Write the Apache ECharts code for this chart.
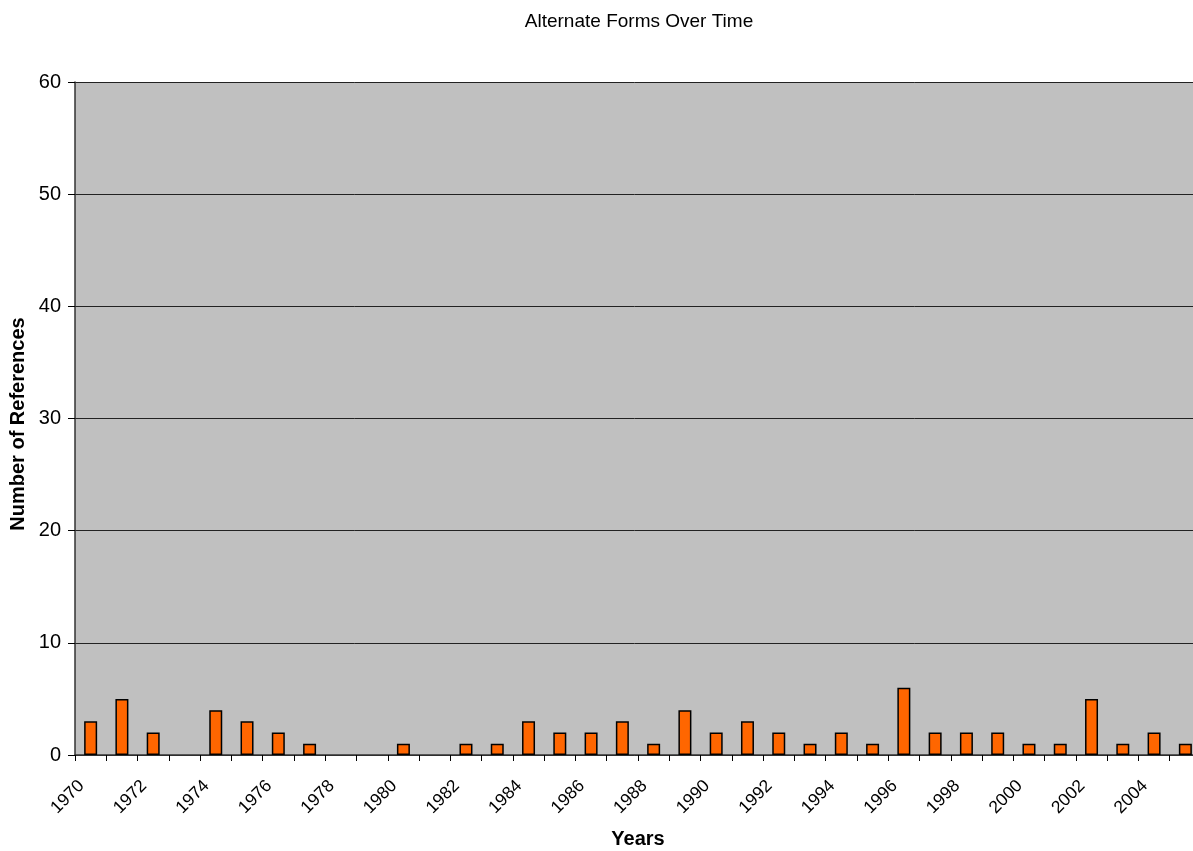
<!DOCTYPE html>
<html><head><meta charset="utf-8">
<script src="https://cdn.jsdelivr.net/npm/echarts@6/dist/echarts.min.js"></script>
<style>html,body{margin:0;padding:0;background:#fff}#c{width:1193px;height:851px}</style>
</head><body><div id="c"></div>
<script>
const years = ['1970','1971','1972','1973','1974','1975','1976','1977','1978','1979','1980','1981','1982','1983','1984','1985','1986','1987','1988','1989','1990','1991','1992','1993','1994','1995','1996','1997','1998','1999','2000','2001','2002','2003','2004','2005'];
const references = [3,5,2,0,4,3,2,1,0,0,1,0,1,1,3,2,2,3,1,4,2,3,2,1,2,1,6,2,2,2,1,1,5,1,2,1];
const yTicks = [0,10,20,30,40,50,60];
const font = 'Liberation Sans, Arial, sans-serif';
const chart = echarts.init(document.getElementById('c'));
chart.setOption({
  animation:false,
  title:{text:'Alternate Forms Over Time',left:634,top:7,textAlign:'center',textStyle:{fontFamily:font,fontSize:19,fontWeight:'normal',color:'#000'}},
  grid:{left:75,right:-8,top:82,bottom:96,show:true,backgroundColor:'#c0c0c0',borderWidth:0,containLabel:false,outerBoundsMode:'none'},
  xAxis:{type:'category',data:years,
    axisLine:{lineStyle:{color:'#333',width:1.5}},
    axisTick:{show:true,interval:0,length:6,lineStyle:{color:'#000'}},
    axisLabel:{interval:1,rotate:45,margin:19,padding:[0,13,0,0],fontFamily:font,fontSize:17.5,color:'#000'}},
  yAxis:{type:'value',min:yTicks[0],max:yTicks[yTicks.length-1],interval:10,
    axisLine:{show:true,lineStyle:{color:'#333',width:1.5}},
    axisTick:{show:true,length:7,lineStyle:{color:'#000'}},
    axisLabel:{margin:14,fontFamily:font,fontSize:20,color:'#000'},
    splitLine:{lineStyle:{color:'#222',width:1}}},
  graphic:[
    {type:'text',x:638,y:839,style:{text:'Years',fill:'#000',font:'bold 20px Liberation Sans, Arial, sans-serif',align:'center',verticalAlign:'middle'}},
    {type:'text',x:18,y:424,rotation:Math.PI/2,style:{text:'Number of References',fill:'#000',font:'bold 20px Liberation Sans, Arial, sans-serif',align:'center',verticalAlign:'middle'}}
  ],
  series:[{type:'bar',data:references.map(v => v === 0 ? null : v),barWidth:13,itemStyle:{color:'#ff6600',borderColor:'#000',borderWidth:1.5}}]
});
</script></body></html>
